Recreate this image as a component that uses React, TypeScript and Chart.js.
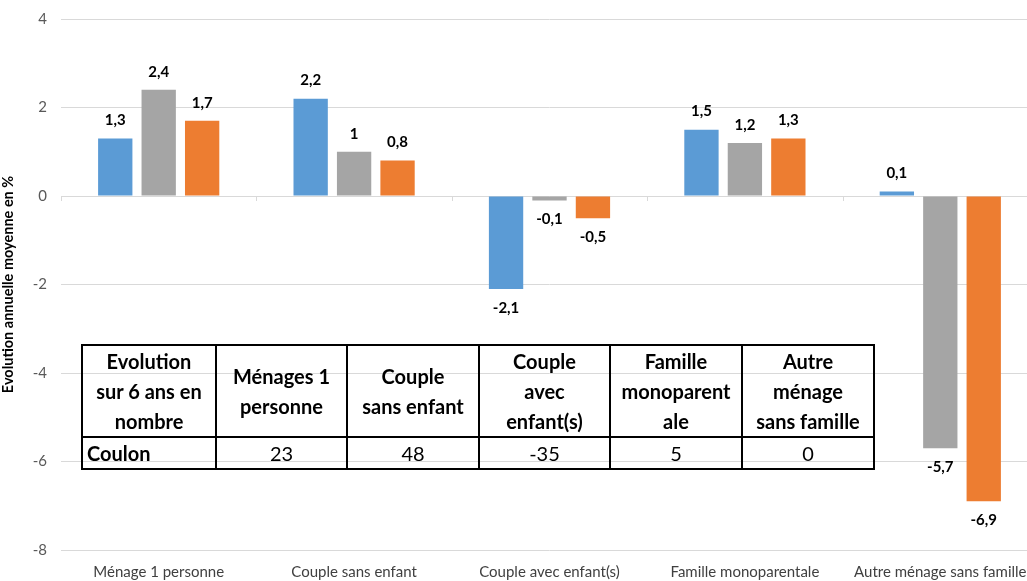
import React, { useEffect, useRef } from "react";
import { Chart, registerables } from "chart.js";

Chart.register(...registerables);

const categories = [
  "Ménage 1 personne",
  "Couple sans enfant",
  "Couple avec enfant(s)",
  "Famille monoparentale",
  "Autre ménage sans famille",
];
const seriesBlue = [1.3, 2.2, -2.1, 1.5, 0.1];
const seriesGray = [2.4, 1, -0.1, 1.2, -5.7];
const seriesOrange = [1.7, 0.8, -0.5, 1.3, -6.9];
const yTicks = [-8, -6, -4, -2, 0, 2, 4];

const tableCorner = ["Evolution", "sur 6 ans en", "nombre"];
const tableHeaders = [
  ["Ménages 1", "personne"],
  ["Couple", "sans enfant"],
  ["Couple", "avec", "enfant(s)"],
  ["Famille", "monoparent", "ale"],
  ["Autre", "ménage", "sans famille"],
];
const tableRowLabel = "Coulon";
const tableValues = ["23", "48", "-35", "5", "0"];

const FONT = "Lato, 'Open Sans', sans-serif";

const fmt = (v: number) => String(v).replace(".", ",");

const labelPlugin = {
  id: "barLabels",
  afterDatasetsDraw(chart: any) {
    const ctx = chart.ctx;
    ctx.save();
    ctx.font = `bold 15px ${FONT}`;
    ctx.fillStyle = "#000";
    ctx.textAlign = "center";
    ctx.textBaseline = "middle";
    chart.data.datasets.forEach((ds: any, di: number) => {
      const meta = chart.getDatasetMeta(di);
      meta.data.forEach((el: any, i: number) => {
        const v = ds.data[i];
        const y = v >= 0 ? el.y - 18 : el.y + 19;
        ctx.fillText(fmt(v), el.x, y);
      });
    });
    ctx.restore();
  },
};

const zeroTicksPlugin = {
  id: "zeroTicks",
  afterDatasetsDraw(chart: any) {
    const ctx = chart.ctx;
    const x = chart.scales.x;
    const y = chart.scales.y;
    const y0 = y.getPixelForValue(0);
    const n = categories.length;
    const step = x.getPixelForValue(1) - x.getPixelForValue(0);
    ctx.save();
    ctx.strokeStyle = "#d9d9d9";
    ctx.lineWidth = 1;
    for (let i = 0; i <= n; i++) {
      let px = x.getPixelForValue(0) - step / 2 + i * step;
      px = Math.round(px) + 0.5;
      ctx.beginPath();
      ctx.moveTo(px, y0);
      ctx.lineTo(px, y0 + 5);
      ctx.stroke();
    }
    ctx.restore();
  },
};

export default function App() {
  const ref = useRef<HTMLCanvasElement | null>(null);

  useEffect(() => {
    document.body.style.margin = "0";
    document.body.style.overflow = "hidden";
    if (!ref.current) return;
    const chart = new Chart(ref.current, {
      type: "bar",
      data: {
        labels: categories,
        datasets: [
          { label: "Série 1", data: seriesBlue, backgroundColor: "#5B9BD5" },
          { label: "Série 2", data: seriesGray, backgroundColor: "#A5A5A5" },
          { label: "Série 3", data: seriesOrange, backgroundColor: "#ED7D31" },
        ],
      },
      options: {
        animation: false,
        responsive: false,
        maintainAspectRatio: false,
        layout: { padding: { top: 19, right: 2, left: 0, bottom: 0 } },
        datasets: { bar: { categoryPercentage: 0.667, barPercentage: 0.79 } },
        plugins: {
          legend: { display: false },
          tooltip: { enabled: false },
        },
        scales: {
          x: {
            grid: { display: false, drawTicks: false },
            border: { display: false },
            ticks: {
              color: "#404040",
              font: { family: FONT, size: 15 },
              padding: 13,
              maxRotation: 0,
              autoSkip: false,
            },
            afterFit: (s: any) => {
              s.height = 31;
              s.paddingLeft = 0;
              s.paddingRight = 0;
            },
          },
          y: {
            min: -8,
            max: 4,
            afterBuildTicks: (s: any) => {
              s.ticks = yTicks.map((v) => ({ value: v }));
            },
            grid: { color: "#d9d9d9", drawTicks: false, lineWidth: 1 },
            border: { display: false },
            ticks: {
              color: "#595959",
              font: { family: FONT, size: 15 },
              padding: 14,
            },
            title: {
              display: true,
              text: "Evolution annuelle moyenne en %",
              color: "#000",
              font: { family: FONT, size: 14.5, weight: "bold" },
              padding: { top: 0, bottom: 6 },
            },
            afterFit: (s: any) => {
              s.width = 61;
              s.paddingTop = 0;
              s.paddingBottom = 0;
            },
          },
        },
      },
      plugins: [labelPlugin, zeroTicksPlugin],
    });
    return () => chart.destroy();
  }, []);

  const cellBase: React.CSSProperties = {
    border: "2px solid #000",
    padding: 0,
    textAlign: "center",
    verticalAlign: "middle",
    lineHeight: "30px",
    whiteSpace: "nowrap",
  };
  const colW = [134, 131, 132, 131, 132, 132];

  return (
    <div style={{ position: "fixed", left: 0, top: 0, width: 1040, height: 581, background: "#fff" }}>
      <canvas ref={ref} width={1040} height={581} style={{ display: "block" }} />
      <table
        style={{
          position: "absolute",
          left: 81,
          top: 344,
          borderCollapse: "collapse",
          tableLayout: "fixed",
          fontFamily: FONT,
          fontSize: 20,
          color: "#000",
          background: "transparent",
          width: 793,
        }}
      >
        <colgroup>
          {colW.map((w, i) => (
            <col key={i} style={{ width: w }} />
          ))}
        </colgroup>
        <tbody>
          <tr style={{ height: 92 }}>
            <td style={{ ...cellBase, fontWeight: "bold" }}>
              {tableCorner.map((t, i) => (
                <div key={i}>{t}</div>
              ))}
            </td>
            {tableHeaders.map((lines, i) => (
              <td key={i} style={{ ...cellBase, fontWeight: "bold" }}>
                {lines.map((t, j) => (
                  <div key={j}>{t}</div>
                ))}
              </td>
            ))}
          </tr>
          <tr style={{ height: 30 }}>
            <td style={{ ...cellBase, fontWeight: "bold", textAlign: "left", paddingLeft: 4 }}>{tableRowLabel}</td>
            {tableValues.map((v, i) => (
              <td key={i} style={cellBase}>
                {v}
              </td>
            ))}
          </tr>
        </tbody>
      </table>
    </div>
  );
}
